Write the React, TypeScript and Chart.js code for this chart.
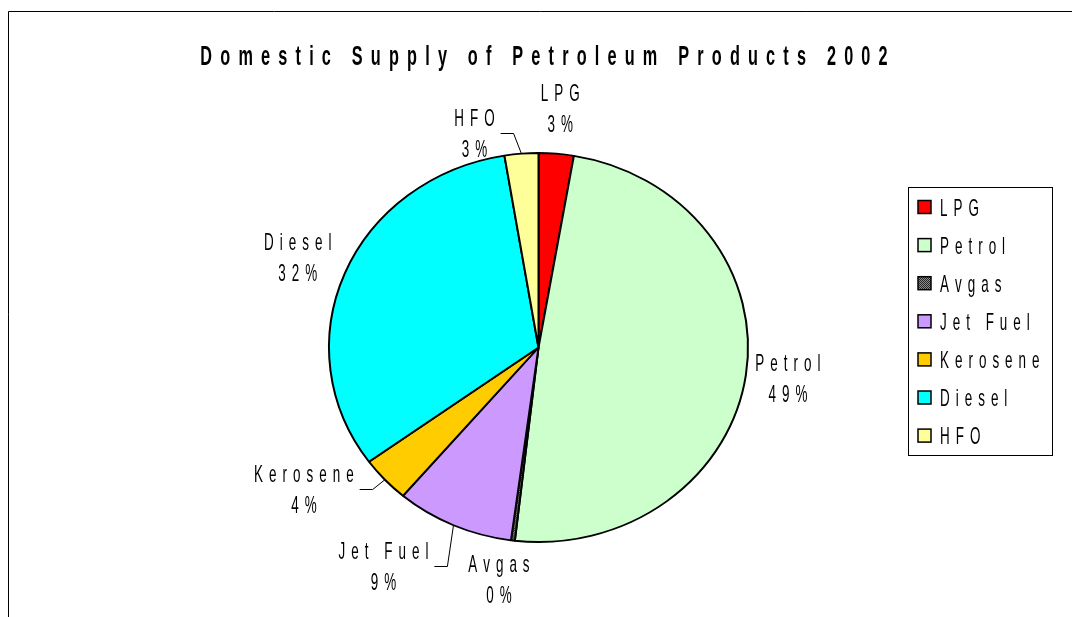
import React, { useEffect, useRef } from "react";
import { Chart, registerables } from "chart.js";

Chart.register(...registerables);

// ---- data ----
const TITLE = "Domestic Supply of Petroleum Products 2002";
const categories = ["LPG", "Petrol", "Avgas", "Jet Fuel", "Kerosene", "Diesel", "HFO"];
const shares = [2.7, 49.1, 0.3, 9.1, 3.8, 32.4, 2.6];
const sliceColors = ["#FF0000", "#CCFFCC", "PATTERN", "#CC99FF", "#FFCC00", "#00FFFF", "#FFFF99"];

// ---- label layout (offset from slice's outer-edge midpoint to label block centre) ----
const labelOffsets: [number, number][] = [
  [4, -46],
  [42, 3],
  [-14, 38],
  [-70, 41],
  [-81, 9],
  [-47, -17],
  [-47, -21],
];
const hasLeader = [false, false, false, true, true, false, true];

const Y_SCALE = 194.5 / 209.5;
const FONT_FAMILY = '"Liberation Sans", Arial, sans-serif';

function makeAvgasPattern(): CanvasPattern | string {
  const c = document.createElement("canvas");
  c.width = 2;
  c.height = 2;
  const x = c.getContext("2d");
  if (!x) return "#444";
  x.fillStyle = "#8a8a8a";
  x.fillRect(0, 0, 2, 2);
  x.fillStyle = "#262626";
  x.fillRect(0, 0, 1, 1);
  x.fillRect(1, 1, 1, 1);
  const p = x.createPattern(c, "repeat");
  return p || "#444";
}

function measureSpaced(ctx: CanvasRenderingContext2D, text: string, sx: number, spacing: number) {
  let w = 0;
  const chars = Array.from(text);
  chars.forEach((ch, i) => {
    w += ctx.measureText(ch).width * sx;
    if (i < chars.length - 1) w += spacing;
  });
  return w;
}

function drawSpaced(
  ctx: CanvasRenderingContext2D,
  text: string,
  x: number,
  y: number,
  font: string,
  sx: number,
  spacing: number,
  align: "center" | "left"
) {
  ctx.save();
  ctx.font = font;
  ctx.textAlign = "left";
  ctx.textBaseline = "alphabetic";
  ctx.fillStyle = "#000";
  const total = measureSpaced(ctx, text, sx, spacing);
  let cx = align === "center" ? x - total / 2 : x;
  for (const ch of Array.from(text)) {
    const w = ctx.measureText(ch).width * sx;
    ctx.save();
    ctx.translate(cx, y);
    ctx.scale(sx, 1);
    ctx.fillText(ch, 0, 0);
    ctx.restore();
    cx += w + spacing;
  }
  ctx.restore();
  return total;
}

const LABEL_FONT = `24px ${FONT_FAMILY}`;
const LABEL_SX = 0.56;
const LABEL_SP = 6;
const CAP_HALF = 8.5;

export default function App() {
  const ref = useRef<HTMLCanvasElement | null>(null);

  useEffect(() => {
    const canvas = ref.current;
    if (!canvas) return;
    const pattern = makeAvgasPattern();
    const colors = sliceColors.map((c) => (c === "PATTERN" ? pattern : c));
    const total = shares.reduce((a, b) => a + b, 0);
    const pctLabels = shares.map((v) => `${Math.round((v / total) * 100)}%`);

    const ellipsePlugin = {
      id: "ellipse",
      beforeDatasetsDraw(chart: any) {
        const a = chart.getDatasetMeta(0).data[0];
        const ctx = chart.ctx;
        ctx.save();
        ctx.translate(a.x, a.y);
        ctx.scale(1, Y_SCALE);
        ctx.translate(-a.x, -a.y);
      },
      afterDatasetsDraw(chart: any) {
        chart.ctx.restore();
      },
    };

    const decorPlugin = {
      id: "decor",
      beforeDraw(chart: any) {
        const ctx = chart.ctx as CanvasRenderingContext2D;
        ctx.save();
        ctx.fillStyle = "#fff";
        ctx.fillRect(0, 0, chart.width, chart.height);
        ctx.strokeStyle = "#000";
        ctx.lineWidth = 1;
        ctx.beginPath();
        ctx.moveTo(8.5, chart.height);
        ctx.lineTo(8.5, 11.5);
        ctx.lineTo(chart.width, 11.5);
        ctx.stroke();
        ctx.restore();
      },
      afterDraw(chart: any) {
        const ctx = chart.ctx as CanvasRenderingContext2D;
        // title
        drawSpaced(ctx, TITLE, 544, 65, `bold 28px ${FONT_FAMILY}`, 0.58, 8.2, "center");

        // data labels
        const arcs = chart.getDatasetMeta(0).data;
        arcs.forEach((arc: any, i: number) => {
          const p = arc.getProps(["x", "y", "startAngle", "endAngle", "outerRadius"], true);
          const mid = (p.startAngle + p.endAngle) / 2;
          const ex = p.x + p.outerRadius * Math.cos(mid);
          const ey = p.y + Y_SCALE * p.outerRadius * Math.sin(mid);
          const [dx, dy] = labelOffsets[i];
          const lx = ex + dx;
          const ly = ey + dy;
          const w1 = drawSpaced(ctx, categories[i], lx, ly - 15.5 + CAP_HALF, LABEL_FONT, LABEL_SX, LABEL_SP, "center");
          const w2 = drawSpaced(ctx, pctLabels[i], lx, ly + 15.5 + CAP_HALF, LABEL_FONT, LABEL_SX, LABEL_SP, "center");
          if (hasLeader[i]) {
            const sx0 = lx + Math.max(w1, w2) / 2 + 6;
            ctx.save();
            ctx.strokeStyle = "#000";
            ctx.lineWidth = 1;
            ctx.beginPath();
            ctx.moveTo(sx0, Math.round(ly) + 0.5);
            ctx.lineTo(sx0 + 13, Math.round(ly) + 0.5);
            ctx.lineTo(ex, ey);
            ctx.stroke();
            ctx.restore();
          }
        });

        // legend
        ctx.save();
        ctx.strokeStyle = "#000";
        ctx.lineWidth = 1;
        ctx.strokeRect(908.5, 187.5, 144, 268);
        ctx.restore();
        categories.forEach((cat, i) => {
          const cy = 207 + i * 38.1;
          ctx.save();
          ctx.fillStyle = colors[i] as any;
          ctx.fillRect(918, cy - 6.5, 13, 13);
          ctx.strokeStyle = "#000";
          ctx.lineWidth = 1.5;
          ctx.strokeRect(918, cy - 6.5, 13, 13);
          ctx.restore();
          drawSpaced(ctx, cat, 940, cy + CAP_HALF, LABEL_FONT, LABEL_SX, LABEL_SP, "left");
        });
      },
    };

    const chart = new Chart(canvas, {
      type: "pie",
      data: {
        labels: categories,
        datasets: [
          {
            data: shares,
            backgroundColor: colors as any,
            borderColor: "#000",
            borderWidth: 2,
          },
        ],
      },
      options: {
        responsive: false,
        animation: false,
        devicePixelRatio: 1,
        layout: { padding: { left: 328, right: 323, top: 137, bottom: 59 } },
        plugins: {
          legend: { display: false },
          title: { display: false },
          tooltip: { enabled: false },
        },
      },
      plugins: [ellipsePlugin, decorPlugin],
    });
    return () => chart.destroy();
  }, []);

  return (
    <canvas
      ref={ref}
      width={1072}
      height={617}
      style={{ position: "fixed", left: 0, top: 0, width: 1072, height: 617, display: "block" }}
    />
  );
}
